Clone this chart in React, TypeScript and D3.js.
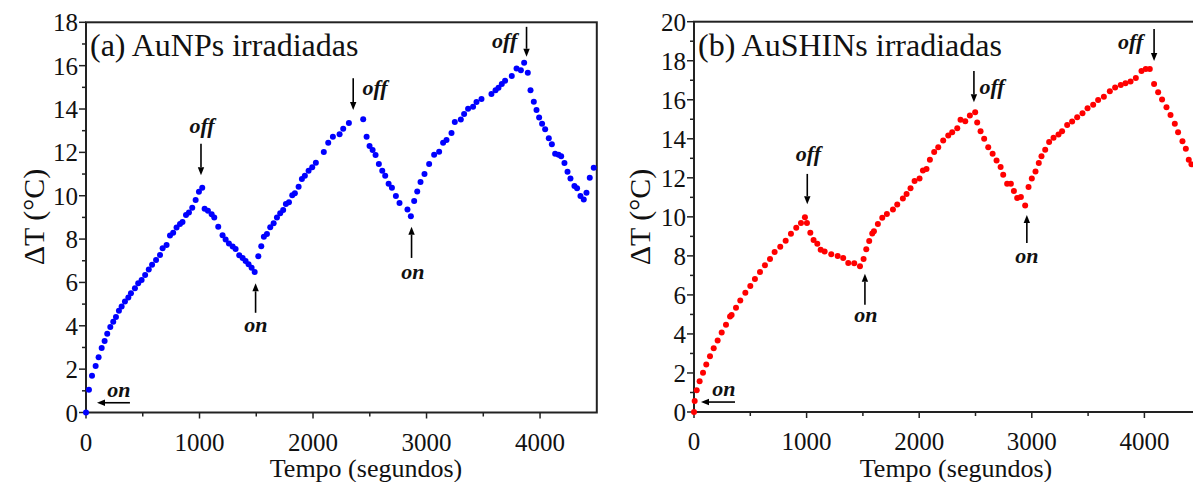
import React from 'react';
import * as d3 from 'd3';

// ---------- Data ----------
const aunpsTime = [
  0, 26, 53, 85, 111, 138, 164, 187, 214, 240, 264, 290, 314, 343, 373, 396, 431, 460, 490, 521, 553, 582, 617, 652, 675, 710, 740, 768, 798, 828, 850, 881, 907, 936, 966, 995, 1024,
  1045, 1074, 1107, 1130, 1165, 1203, 1230, 1259, 1292, 1318, 1350, 1380, 1406, 1432, 1459, 1486,
  1518, 1544, 1567, 1594, 1623, 1653, 1682, 1711, 1737, 1761, 1788, 1817, 1840, 1873, 1902, 1928, 1961, 1993, 2025, 2095, 2134, 2175, 2234, 2266, 2316, 2442,
  2472, 2498, 2525, 2551, 2580, 2610, 2636, 2666, 2695, 2730, 2762, 2832, 2862,
  2891, 2918, 2947, 2982, 3023, 3067, 3111, 3146, 3176, 3220, 3249, 3302, 3331, 3366, 3410, 3440, 3484, 3572, 3608, 3634, 3663, 3692, 3751, 3793, 3831, 3860, 3892,
  3916, 3945, 3969, 3992, 4018, 4045, 4077, 4104, 4133, 4163, 4186, 4215, 4242, 4268, 4303, 4326, 4356, 4385, 4409, 4438, 4473,
];
const aunpsDeltaT = [
  0, 1.05, 1.69, 2.15, 2.55, 2.97, 3.3, 3.63, 3.94, 4.19, 4.4, 4.69, 4.89, 5.12, 5.3, 5.5, 5.73, 5.96, 6.11, 6.34, 6.6, 6.82, 7.04, 7.27, 7.58, 7.73, 8.16, 8.29, 8.53, 8.7, 8.79, 9.11, 9.23, 9.45, 9.8, 10.18, 10.37,
  9.4, 9.31, 9.14, 9.0, 8.57, 8.18, 7.98, 7.8, 7.66, 7.54, 7.25, 7.13, 6.99, 6.84, 6.68, 6.48,
  7.21, 7.67, 8.11, 8.24, 8.54, 8.73, 8.99, 9.19, 9.34, 9.62, 9.7, 10.02, 10.11, 10.41, 10.77, 10.92, 11.15, 11.31, 11.52, 12.02, 12.44, 12.72, 12.83, 13.09, 13.35, 13.53,
  12.72, 12.29, 12.11, 11.88, 11.46, 11.15, 10.92, 10.55, 10.37, 9.99, 9.66, 9.37, 9.05,
  9.76, 10.2, 10.63, 11.0, 11.46, 11.89, 12.03, 12.44, 12.57, 12.89, 13.4, 13.52, 13.77, 14.01, 14.1, 14.32, 14.46, 14.69, 14.86, 14.98, 15.15, 15.3, 15.52, 15.87, 15.79, 16.13, 15.67,
  14.87, 14.33, 13.95, 13.61, 13.32, 13.07, 12.65, 12.37, 11.94, 11.89, 11.82, 11.51, 11.11, 10.8, 10.45, 10.34, 9.99, 9.83, 10.14, 10.83, 11.29,
];

const aushinsTime = [
  0, 6, 24, 50, 80, 109, 142, 175, 210, 246, 284, 320, 334, 373, 411, 456, 500, 541, 586, 630, 675, 716, 766, 814, 861, 908, 950, 985,
  1003, 1033, 1062, 1095, 1125, 1160, 1219, 1276, 1325, 1370, 1423, 1474,
  1506, 1530, 1556, 1583, 1598, 1633, 1672, 1713, 1767, 1805, 1855, 1888, 1923, 1959, 2003, 2033, 2065, 2095, 2133, 2169, 2213, 2258, 2293, 2338, 2367, 2409, 2450, 2497,
  2515, 2545, 2577, 2613, 2652, 2687, 2723, 2746, 2781, 2814, 2841, 2870, 2903, 2941,
  2971, 3000, 3033, 3062, 3086, 3119, 3154, 3193, 3237, 3269, 3314, 3358, 3403, 3450, 3495, 3545, 3589, 3640, 3693, 3740, 3790, 3832, 3877, 3924, 3974, 4012, 4048,
  4086, 4122, 4157, 4196, 4232, 4270, 4299, 4338, 4368, 4394, 4418,
];
const aushinsDeltaT = [
  0, 0.56, 1.11, 1.57, 2.01, 2.43, 2.86, 3.27, 3.67, 4.08, 4.47, 4.9, 4.97, 5.34, 5.71, 6.11, 6.46, 6.82, 7.18, 7.52, 7.84, 8.2, 8.47, 8.78, 9.13, 9.44, 9.69, 9.98,
  9.68, 9.18, 8.81, 8.62, 8.32, 8.23, 8.08, 8.0, 7.89, 7.64, 7.62, 7.47,
  7.84, 8.34, 8.76, 9.15, 9.26, 9.63, 9.95, 10.14, 10.38, 10.63, 10.94, 11.17, 11.46, 11.84, 11.96, 12.38, 12.45, 12.93, 13.32, 13.57, 13.91, 14.17, 14.34, 14.54, 14.97, 14.9, 15.19, 15.36,
  14.83, 14.39, 14.0, 13.57, 13.23, 12.89, 12.55, 12.16, 11.7, 11.7, 11.33, 10.97, 11.02, 10.58,
  11.53, 11.96, 12.33, 12.76, 13.1, 13.44, 13.83, 14.05, 14.22, 14.39, 14.71, 14.88, 15.1, 15.31, 15.56, 15.75, 15.99, 16.16, 16.43, 16.63, 16.76, 16.84, 16.94, 17.11, 17.48, 17.57, 17.57,
  16.81, 16.38, 16.01, 15.61, 15.22, 14.77, 14.34, 13.88, 13.49, 12.93, 12.69,
];

const xTickValues = [0, 1000, 2000, 3000, 4000];
const yTicksA = [0, 2, 4, 6, 8, 10, 12, 14, 16, 18];
const yTicksB = [0, 2, 4, 6, 8, 10, 12, 14, 16, 18, 20];

// annotations: arrow at time t from v1 to v2 (arrow head at v2); label at (lt, lv) with anchor
type Ann = { t: number; v1: number; v2: number; text: string; lt: number; lv: number; anchor: string };
type HAnn = { t1: number; t2: number; v: number; text: string; lt: number; lv: number };

const annotationsA: Ann[] = [
  { t: 1013, v1: 12.4, v2: 10.95, text: 'off', lt: 1022, lv: 12.9, anchor: 'middle' },
  { t: 1494, v1: 4.6, v2: 5.96, text: 'on', lt: 1497, lv: 3.7, anchor: 'middle' },
  { t: 2354, v1: 15.42, v2: 13.95, text: 'off', lt: 2435, lv: 14.65, anchor: 'start' },
  { t: 2868, v1: 7.13, v2: 8.57, text: 'on', lt: 2880, lv: 6.15, anchor: 'middle' },
  { t: 3881, v1: 17.79, v2: 16.41, text: 'off', lt: 3800, lv: 16.8, anchor: 'end' },
];
const startA: HAnn = { t1: 387, t2: 97, v: 0.45, text: 'on', lt: 290, lv: 0.72 };

const annotationsB: Ann[] = [
  { t: 1006, v1: 12.2, v2: 10.65, text: 'off', lt: 1016, lv: 12.85, anchor: 'middle' },
  { t: 1518, v1: 5.49, v2: 7.08, text: 'on', lt: 1527, lv: 4.6, anchor: 'middle' },
  { t: 2486, v1: 17.48, v2: 15.87, text: 'off', lt: 2535, lv: 16.3, anchor: 'start' },
  { t: 2956, v1: 8.66, v2: 10.09, text: 'on', lt: 2956, lv: 7.65, anchor: 'middle' },
  { t: 4086, v1: 19.63, v2: 17.99, text: 'off', lt: 3990, lv: 18.6, anchor: 'end' },
];
const startB: HAnn = { t1: 364, t2: 62, v: 0.51, text: 'on', lt: 266, lv: 0.82 };

const FONT = '"Liberation Serif", "Times New Roman", serif';
const AXIS = '#222';

type PanelProps = {
  left: number; right: number; top: number; bottom: number;
  yMax: number; yTicks: number[]; times: number[]; values: number[]; color: string;
  title: string; anns: Ann[]; start: HAnn; yLabelX: number; xLabelX: number;
};

function Arrow({ x1, y1, x2, y2 }: { x1: number; y1: number; x2: number; y2: number }) {
  const ang = Math.atan2(y2 - y1, x2 - x1);
  const L = 8, W = 3.2;
  const bx = x2 - L * Math.cos(ang), by = y2 - L * Math.sin(ang);
  const px = -Math.sin(ang) * W, py = Math.cos(ang) * W;
  return (
    <g>
      <line x1={x1} y1={y1} x2={bx} y2={by} stroke="#000" strokeWidth={1.6} />
      <path d={`M${x2},${y2}L${bx + px},${by + py}L${bx - px},${by - py}Z`} fill="#000" />
    </g>
  );
}

function Panel(p: PanelProps) {
  const x = d3.scaleLinear().domain([0, 4500]).range([p.left, p.right]);
  const y = d3.scaleLinear().domain([0, p.yMax]).range([p.bottom, p.top]);
  const minorX = d3.range(500, 4500, 1000);
  const minorY = d3.range(1, p.yMax, 2);
  return (
    <g fontFamily={FONT}>
      {/* frame */}
      <rect x={p.left} y={p.top} width={p.right - p.left} height={p.bottom - p.top} fill="none" stroke={AXIS} strokeWidth={2} />
      {/* x ticks */}
      {xTickValues.map((t) => (
        <g key={'xt' + t}>
          <line x1={x(t)} x2={x(t)} y1={p.bottom} y2={p.bottom + 6} stroke={AXIS} strokeWidth={1.5} />
          <text x={x(t)} y={p.bottom + 38} textAnchor="middle" fontSize={25} fill="#111">{t}</text>
        </g>
      ))}
      {minorX.map((t) => (
        <line key={'xm' + t} x1={x(t)} x2={x(t)} y1={p.bottom} y2={p.bottom + 4} stroke={AXIS} strokeWidth={1.5} />
      ))}
      {/* y ticks */}
      {p.yTicks.map((v) => (
        <g key={'yt' + v}>
          <line x1={p.left - 7} x2={p.left} y1={y(v)} y2={y(v)} stroke={AXIS} strokeWidth={1.5} />
          <text x={p.left - 8} y={y(v) + 9} textAnchor="end" fontSize={25} fill="#111">{v}</text>
        </g>
      ))}
      {minorY.map((v) => (
        <line key={'ym' + v} x1={p.left - 4} x2={p.left} y1={y(v)} y2={y(v)} stroke={AXIS} strokeWidth={1.5} />
      ))}
      {/* axis titles */}
      <text x={p.xLabelX} y={477} textAnchor="middle" fontSize={26} fill="#111">Tempo (segundos)</text>
      <text transform={`translate(${p.yLabelX},217) rotate(-90)`} textAnchor="middle" fontSize={30} fill="#111">ΔT (°C)</text>
      {/* panel title */}
      <text x={p.left + 4} y={56} fontSize={32} fill="#111">{p.title}</text>
      {/* data */}
      {p.times.map((t, i) => (
        <circle key={'d' + i} cx={x(t)} cy={y(p.values[i])} r={3} fill={p.color} />
      ))}
      {/* annotations */}
      {p.anns.map((a, i) => (
        <g key={'a' + i}>
          <Arrow x1={x(a.t)} y1={y(a.v1)} x2={x(a.t)} y2={y(a.v2)} />
          <text x={x(a.lt)} y={y(a.lv)} textAnchor={a.anchor as any} fontSize={22} fontWeight="bold" fontStyle="italic" fill="#111">{a.text}</text>
        </g>
      ))}
      <Arrow x1={x(p.start.t1)} y1={y(p.start.v)} x2={x(p.start.t2)} y2={y(p.start.v)} />
      <text x={x(p.start.lt)} y={y(p.start.lv)} textAnchor="middle" fontSize={22} fontWeight="bold" fontStyle="italic" fill="#111">{p.start.text}</text>
    </g>
  );
}

export default function App() {
  return (
    <svg width={1193} height={482} style={{ position: 'absolute', left: 0, top: 0, background: '#fff' }}>
      <rect x={0} y={0} width={1193} height={482} fill="#fff" />
      <Panel left={86} right={596.8} top={22.3} bottom={412.5} yMax={18} yTicks={yTicksA}
        times={aunpsTime} values={aunpsDeltaT} color="#0000ff" title="(a) AuNPs irradiadas"
        anns={annotationsA} start={startA} yLabelX={44} xLabelX={366} />
      <Panel left={694} right={1200.7} top={21.7} bottom={412} yMax={20} yTicks={yTicksB}
        times={aushinsTime} values={aushinsDeltaT} color="#ff0000" title="(b) AuSHINs irradiadas"
        anns={annotationsB} start={startB} yLabelX={650} xLabelX={956} />
    </svg>
  );
}
